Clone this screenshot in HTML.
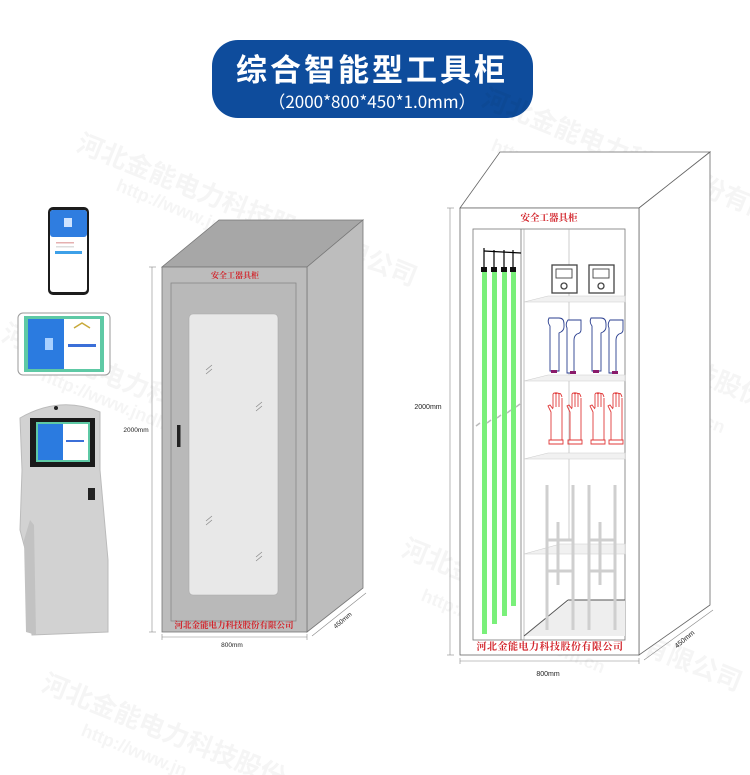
<!DOCTYPE html>
<html><head><meta charset="utf-8"><style>
html,body{margin:0;padding:0;background:#fff;width:750px;height:775px;overflow:hidden;}
svg{display:block;overflow:hidden;font-family:"Liberation Sans","Noto Sans CJK SC",sans-serif;}
.wm{fill:#000;opacity:0.04;font-weight:bold;}
.cn{font-family:"Noto Serif CJK SC","Liberation Serif",serif;font-weight:bold;fill:#d2232a;}
</style></head><body>
<svg width="750" height="775" viewBox="0 0 750 775" xmlns="http://www.w3.org/2000/svg">
<rect x="212" y="40" width="321" height="78" rx="26" fill="#0e4c9c"/>
<text x="372" y="81" text-anchor="middle" font-size="31" font-weight="bold" fill="#fff" letter-spacing="3" font-family="'Noto Sans CJK SC',sans-serif">综合智能型工具柜</text>
<text x="372" y="108" text-anchor="middle" font-size="17" fill="#fff" font-family="'Noto Sans CJK SC','Liberation Sans',sans-serif">（2000*800*450*1.0mm）</text>

<g class="wm">
<text x="75" y="150" font-size="26" transform="rotate(22 75 150)">河北金能电力科技股份有限公司</text>
<text x="115" y="190" font-size="18" transform="rotate(22 115 190)">http://www.jndl.com.cn</text>
<text x="480" y="105" font-size="26" transform="rotate(22 480 105)">河北金能电力科技股份有限公司</text>
<text x="490" y="150" font-size="18" transform="rotate(22 490 150)">http://www.jndl.com.cn</text>
<text x="0" y="340" font-size="26" transform="rotate(22 0 340)">河北金能电力科技股份有限公司</text>
<text x="40" y="380" font-size="18" transform="rotate(22 40 380)">http://www.jndl.com.cn</text>
<text x="400" y="555" font-size="26" transform="rotate(22 400 555)">河北金能电力科技股份有限公司</text>
<text x="420" y="600" font-size="18" transform="rotate(22 420 600)">http://www.jndl.com.cn</text>
<text x="520" y="310" font-size="26" transform="rotate(22 520 310)">河北金能电力科技股份有限公司</text>
<text x="540" y="360" font-size="18" transform="rotate(22 540 360)">http://www.jndl.com.cn</text>
<text x="40" y="690" font-size="26" transform="rotate(22 40 690)">河北金能电力科技股份</text>
<text x="80" y="735" font-size="18" transform="rotate(22 80 735)">http://www.jn</text>
</g>

<rect x="48" y="207" width="41" height="88" rx="5" fill="#1c1c1c"/>
<rect x="50" y="210" width="37" height="82" rx="3" fill="#fff"/>
<rect x="50" y="210" width="37" height="27" rx="3" fill="#2f7de0"/>
<rect x="64" y="218" width="8" height="9" fill="#cfe3ff"/>
<rect x="55" y="251" width="27" height="3" fill="#3da0e8"/>
<rect x="56" y="242" width="18" height="1.5" fill="#e5b0b0"/>
<rect x="56" y="246" width="18" height="1.5" fill="#ddd"/>
<rect x="18" y="313" width="92" height="62" rx="5" fill="#fff" stroke="#999" stroke-width="1"/>
<rect x="24" y="316" width="80" height="56" fill="#5ec9a5"/>
<rect x="28" y="319" width="36" height="50" fill="#2b7be0"/>
<rect x="64" y="319" width="36" height="50" fill="#fff"/>
<rect x="45" y="338" width="8" height="12" fill="#a8d0ff"/>
<rect x="68" y="344" width="28" height="3" fill="#3b6fd8"/>
<path d="M74 328 L82 323 L90 328" fill="none" stroke="#c8a93a" stroke-width="1.5"/>
<path d="M20 418 Q60 395 100 412 L100 470 L108 560 L108 632 L32 635 L28 560 L20 530 L22 470 Z" fill="#d2d2d2" stroke="#bbb"/>
<path d="M30 520 L24 540 L26 632 L36 635 L34 525 Z" fill="#c2c2c2"/>
<circle cx="56" cy="408" r="2" fill="#222"/>
<rect x="30" y="418" width="65" height="49" fill="#1a1a1a"/>
<rect x="36" y="422" width="54" height="40" fill="#5ec9a5"/>
<rect x="38" y="424" width="25" height="36" fill="#2b7be0"/>
<rect x="63" y="424" width="25" height="36" fill="#fff"/>
<rect x="66" y="440" width="18" height="2" fill="#3b6fd8"/>
<rect x="88" y="488" width="7" height="12" fill="#222"/>

<polygon points="162,267 307,267 363,220 219,220" fill="#a7a7a7" stroke="#777" stroke-width="0.8"/>
<polygon points="307,267 363,220 363,588 307,632" fill="#bdbdbd" stroke="#777" stroke-width="0.8"/>
<rect x="162" y="267" width="145" height="365" fill="#bcbcbc" stroke="#777" stroke-width="0.8"/>
<rect x="171" y="283" width="125" height="338" fill="#b9b9b9" stroke="#888" stroke-width="0.8"/>
<rect x="189" y="314" width="89" height="281" rx="4" fill="#e8e8e8" stroke="#aaa" stroke-width="0.6"/>
<rect x="177" y="425" width="3.5" height="22" fill="#222"/>
<g stroke="#888" stroke-width="0.7">
<line x1="206" y1="370" x2="212" y2="365"/><line x1="206" y1="374" x2="212" y2="369"/>
<line x1="256" y1="407" x2="262" y2="402"/><line x1="256" y1="411" x2="262" y2="406"/>
<line x1="206" y1="521" x2="212" y2="516"/><line x1="206" y1="525" x2="212" y2="520"/>
<line x1="256" y1="557" x2="262" y2="552"/><line x1="256" y1="561" x2="262" y2="556"/>
</g>
<text class="cn" x="235" y="278" font-size="8" text-anchor="middle">安全工器具柜</text>
<text class="cn" x="234" y="628" font-size="8.5" text-anchor="middle">河北金能电力科技股份有限公司</text>
<g stroke="#888" stroke-width="0.6">
<line x1="152" y1="267" x2="152" y2="632"/><line x1="149" y1="267" x2="156" y2="267"/><line x1="149" y1="632" x2="156" y2="632"/>
<line x1="162" y1="637" x2="307" y2="637"/><line x1="162" y1="634" x2="162" y2="640"/><line x1="307" y1="634" x2="307" y2="640"/>
<line x1="312" y1="636" x2="366" y2="593"/>
</g>
<text x="136" y="432" font-size="6.5" fill="#222" text-anchor="middle">2000mm</text>
<text x="232" y="647" font-size="6.5" fill="#222" text-anchor="middle">800mm</text>
<text x="344" y="622" font-size="6.5" fill="#222" text-anchor="middle" transform="rotate(-40 344 622)">450mm</text>

<polygon points="460,208 639,208 710,152 500,152" fill="#fff" stroke="#666" stroke-width="0.8"/>
<polygon points="639,208 710,152 710,605 639,655" fill="#fff" stroke="#666" stroke-width="0.8"/>
<rect x="460" y="208" width="179" height="447" fill="#fff" stroke="#666" stroke-width="0.8"/>
<rect x="473" y="229" width="152" height="411" fill="#fff" stroke="#777" stroke-width="0.8"/>
<line x1="521" y1="229" x2="521" y2="640" stroke="#777" stroke-width="0.8"/>
<line x1="524" y1="229" x2="524" y2="640" stroke="#999" stroke-width="0.6"/>
<line x1="569" y1="229" x2="569" y2="540" stroke="#aaa" stroke-width="0.6"/>
<g fill="#f1f1f1" stroke="#ccc" stroke-width="0.6">
<polygon points="524,302 625,302 625,296 548,296"/>
<polygon points="524,381 625,381 625,375 548,375"/>
<polygon points="524,459 625,459 625,453 548,453"/>
<polygon points="524,554 625,554 625,544 560,544"/>
</g>
<polygon points="524,636 625,636 625,600 570,600" fill="#eee"/>
<line x1="524" y1="636" x2="568" y2="600" stroke="#555" stroke-width="1"/>
<line x1="568" y1="600" x2="625" y2="600" stroke="#555" stroke-width="1"/>
<g stroke="#cfcfcf" stroke-width="3">
<line x1="547" y1="485" x2="547" y2="630"/><line x1="573" y1="485" x2="573" y2="630"/>
<line x1="589" y1="485" x2="589" y2="630"/><line x1="615" y1="485" x2="615" y2="630"/>
<line x1="558" y1="522" x2="558" y2="585"/><line x1="600" y1="522" x2="600" y2="585"/>
<line x1="547" y1="540" x2="573" y2="540"/><line x1="589" y1="540" x2="615" y2="540"/>
<line x1="547" y1="571" x2="573" y2="571"/><line x1="589" y1="571" x2="615" y2="571"/>
</g>
<g stroke="#000" stroke-width="1.2">
<line x1="484" y1="248" x2="484" y2="268"/><line x1="494" y1="250" x2="494" y2="268"/>
<line x1="504" y1="250" x2="504" y2="268"/><line x1="513" y1="250" x2="513" y2="268"/>
<line x1="484" y1="251" x2="521" y2="253"/>
</g>
<g fill="#111"><rect x="481" y="267" width="6" height="5"/><rect x="491" y="267" width="6" height="5"/><rect x="501" y="267" width="6" height="5"/><rect x="510" y="267" width="6" height="5"/></g>
<g fill="#7af07a">
<rect x="482" y="272" width="5" height="362"/><rect x="492" y="272" width="5" height="352"/>
<rect x="502" y="272" width="5" height="344"/><rect x="511" y="272" width="5" height="334"/>
</g>
<g stroke="#bbb" stroke-width="1.5" fill="none">
<path d="M476 426 l4 -3"/><path d="M487 423 l4 -3"/><path d="M497 418 l4 -3"/><path d="M507 413 l4 -3"/><path d="M516 407 l4 -3"/>
</g>
<g fill="#fff" stroke="#444" stroke-width="1.3">
<rect x="552" y="265" width="25" height="28"/><rect x="589" y="265" width="25" height="28"/>
<rect x="556" y="269" width="16" height="9" stroke-width="0.9"/><rect x="593" y="269" width="16" height="9" stroke-width="0.9"/>
<circle cx="564" cy="286" r="3"/><circle cx="601" cy="286" r="3"/>
</g>
<g fill="#fff" stroke="#2a3e8f" stroke-width="0.9">
<path d="M549 318 h10 q5 0 5 6 v3 q0 4 -5 6 v38 h-9 v-45 q-3 -4 -1 -8z"/>
<path d="M568 320 h13 v10 q0 3 -4 4 q-3 2 -3 6 v33 h-7 v-45 q-2 -4 1 -8z"/>
<path d="M591 318 h10 q5 0 5 6 v3 q0 4 -5 6 v38 h-9 v-45 q-3 -4 -1 -8z"/>
<path d="M610 320 h13 v10 q0 3 -4 4 q-3 2 -3 6 v33 h-7 v-45 q-2 -4 1 -8z"/>
</g>
<g fill="#8a1a6a"><rect x="551" y="370" width="6" height="3"/><rect x="570" y="371" width="6" height="3"/><rect x="593" y="370" width="6" height="3"/><rect x="612" y="371" width="6" height="3"/></g>
<g fill="none" stroke="#e03a3a" stroke-width="0.9">
<path d="M551 440 v-28 l-3 -6 l2 -1 l3 4 M553 408 v-14 M556 407 v-15 M559 407 v-14 M562 409 v-11 v42"/>
<path d="M553 394 q1.5 -2 3 0 q1.5 -2 3 0 q1.5 -2 3 3" />
<path d="M549 440 h14 v4 h-14z"/>
<path d="M570 440 v-28 l-3 -6 l2 -1 l3 4 M572 408 v-14 M575 407 v-15 M578 407 v-14 M581 409 v-11 v42"/>
<path d="M572 394 q1.5 -2 3 0 q1.5 -2 3 0 q1.5 -2 3 3"/>
<path d="M568 440 h14 v4 h-14z"/>
<path d="M593 440 v-28 l-3 -6 l2 -1 l3 4 M595 408 v-14 M598 407 v-15 M601 407 v-14 M604 409 v-11 v42"/>
<path d="M595 394 q1.5 -2 3 0 q1.5 -2 3 0 q1.5 -2 3 3"/>
<path d="M591 440 h14 v4 h-14z"/>
<path d="M611 440 v-28 l-3 -6 l2 -1 l3 4 M613 408 v-14 M616 407 v-15 M619 407 v-14 M622 409 v-11 v42"/>
<path d="M613 394 q1.5 -2 3 0 q1.5 -2 3 0 q1.5 -2 3 3"/>
<path d="M609 440 h14 v4 h-14z"/>
</g>
<text class="cn" x="549" y="221" font-size="9.5" text-anchor="middle">安全工器具柜</text>
<text class="cn" x="550" y="650" font-size="10" text-anchor="middle" letter-spacing="0.5">河北金能电力科技股份有限公司</text>
<g stroke="#888" stroke-width="0.6">
<line x1="450" y1="208" x2="450" y2="655"/><line x1="447" y1="208" x2="454" y2="208"/><line x1="447" y1="655" x2="454" y2="655"/>
<line x1="460" y1="661" x2="639" y2="661"/><line x1="460" y1="658" x2="460" y2="664"/><line x1="639" y1="658" x2="639" y2="664"/>
<line x1="644" y1="660" x2="713" y2="610"/>
</g>
<text x="428" y="409" font-size="7" fill="#222" text-anchor="middle">2000mm</text>
<text x="548" y="676" font-size="7" fill="#222" text-anchor="middle">800mm</text>
<text x="686" y="641" font-size="7" fill="#222" text-anchor="middle" transform="rotate(-40 686 641)">450mm</text>
</svg>
</body></html>
